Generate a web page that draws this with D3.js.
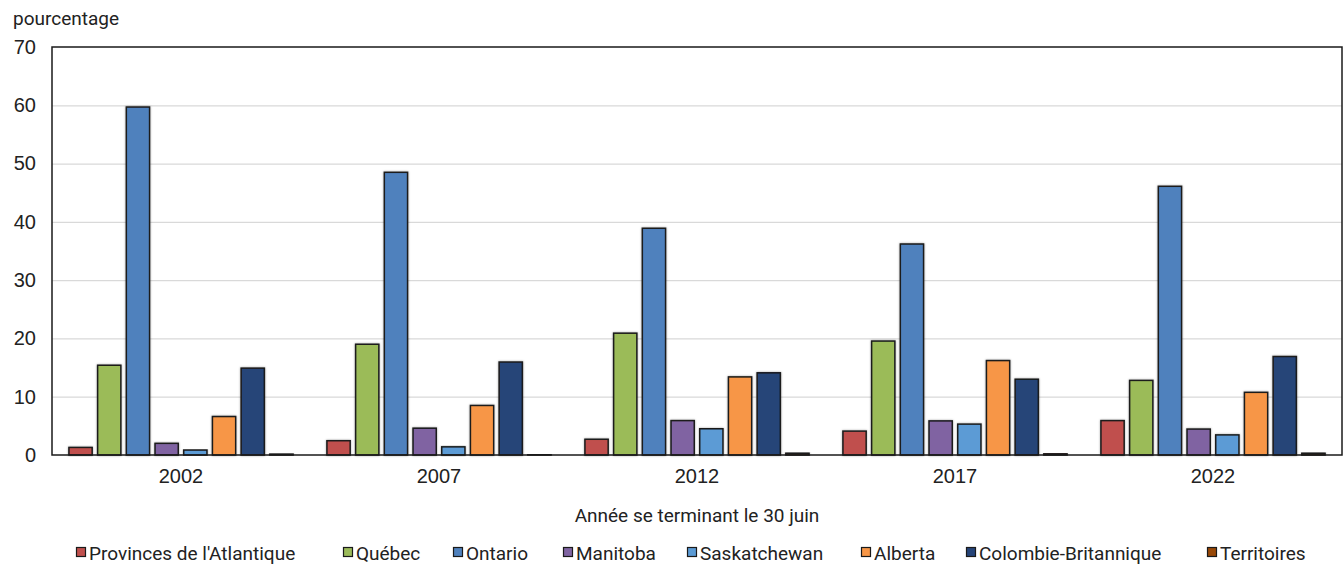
<!DOCTYPE html>
<html>
<head>
<meta charset="utf-8">
<script src="https://cdn.jsdelivr.net/npm/d3@7"></script>
<style>
  html, body { margin: 0; padding: 0; background: #fff; }
  svg { display: block; font-family: "Roboto", "Liberation Sans", sans-serif; }
</style>
</head>
<body>
<svg id="chart" width="1344" height="564"></svg>
<script>
const years = ["2002", "2007", "2012", "2017", "2022"];
const seriesNames = ["Provinces de l'Atlantique", "Québec", "Ontario", "Manitoba", "Saskatchewan", "Alberta", "Colombie-Britannique", "Territoires"];
const atlantique = [1.3, 2.45, 2.7, 4.1, 5.9];
const quebec = [15.4, 19.0, 20.9, 19.55, 12.8];
const ontario = [59.7, 48.5, 38.9, 36.2, 46.1];
const manitoba = [2.0, 4.6, 5.9, 5.85, 4.45];
const saskatchewan = [0.85, 1.4, 4.5, 5.3, 3.45];
const alberta = [6.6, 8.5, 13.4, 16.2, 10.75];
const colombieBritannique = [14.9, 15.95, 14.1, 13.0, 16.9];
const territoires = [0.15, 0.1, 0.3, 0.2, 0.3];
const yTicks = [0, 10, 20, 30, 40, 50, 60, 70];
const yLabel = "pourcentage";
const xLabel = "Année se terminant le 30 juin";

(function () {
const seriesValues = [atlantique, quebec, ontario, manitoba, saskatchewan, alberta, colombieBritannique, territoires];
const colors = ["#C0504D", "#9BBB59", "#4F81BD", "#8064A2", "#5B9BD5", "#F79646", "#254478", "#984807"];

const svg = d3.select("#chart");
const pL = 52, pR = 1342, pT = 47, pB = 455;

const x0 = d3.scaleBand().domain(years).range([pL, pR]).paddingInner(0).paddingOuter(0);
const x1 = d3.scaleBand().domain(seriesNames).range([0, x0.bandwidth()]).paddingInner(0.19).paddingOuter(0.59);
const y = d3.scaleLinear().domain([0, 70]).range([pB, pT]);

svg.append("g").selectAll("line").data(yTicks.filter(t => t > 0 && t < 70)).join("line")
  .attr("x1", pL).attr("x2", pR)
  .attr("y1", d => y(d) + 0.5).attr("y2", d => y(d) + 0.5)
  .attr("stroke", "#d9d9d9").attr("stroke-width", 1.2);

const defs = svg.append("defs");
const f = defs.append("filter").attr("id", "sh").attr("x", "-20%").attr("y", "-20%").attr("width", "140%").attr("height", "140%");
f.append("feDropShadow").attr("dx", 0).attr("dy", 0).attr("stdDeviation", 0.8).attr("flood-color", "#000").attr("flood-opacity", 0.35);

const table = [];
years.forEach((yr, i) => seriesNames.forEach((s, j) => table.push({ yr, s, j, v: seriesValues[j][i] })));
svg.append("g").selectAll("rect").data(table).join("rect")
  .attr("x", d => x0(d.yr) + x1(d.s))
  .attr("width", x1.bandwidth())
  .attr("y", d => y(d.v))
  .attr("height", d => y(0) - y(d.v))
  .attr("fill", d => colors[d.j])
  .attr("stroke", "#1a1a1a").attr("stroke-width", 1.5)
  .attr("filter", "url(#sh)");

svg.append("rect").attr("x", pL).attr("y", pT).attr("width", pR - pL).attr("height", pB - pT)
  .attr("fill", "none").attr("stroke", "#1a1a1a").attr("stroke-width", 1.5);

const yAxis = d3.axisLeft(y).tickValues(yTicks).tickSize(0).tickPadding(16);
const gy = svg.append("g").attr("transform", `translate(${pL},0)`).call(yAxis);
gy.select(".domain").remove();
gy.selectAll("text").attr("font-size", 20).attr("fill", "#222").style("font-family", "inherit");

const xAxis = d3.axisBottom(x0).tickSize(0).tickPadding(14);
const gx = svg.append("g").attr("transform", `translate(0,${pB})`).call(xAxis);
gx.select(".domain").remove();
gx.selectAll("text").attr("font-size", 20).attr("fill", "#222").style("font-family", "inherit");

svg.append("text").attr("x", 13).attr("y", 25).attr("font-size", 19).attr("fill", "#222").text(yLabel);
svg.append("text").attr("x", 697).attr("y", 522).attr("text-anchor", "middle")
  .attr("font-size", 19).attr("fill", "#222").text(xLabel);

const legendX = [76, 343, 453, 563, 687, 861, 966, 1207];
const lg = svg.append("g").selectAll("g").data(seriesNames).join("g")
  .attr("transform", (d, i) => `translate(${legendX[i]},553)`);
lg.append("rect").attr("x", 0.5).attr("y", -5.5).attr("width", 9).attr("height", 9)
  .attr("fill", (d, i) => colors[i]).attr("stroke", "#1a1a1a").attr("stroke-width", 1.2);
lg.append("text").attr("x", 13).attr("y", 7).attr("font-size", 19).attr("fill", "#222").text(d => d);
})();
</script>
</body>
</html>
